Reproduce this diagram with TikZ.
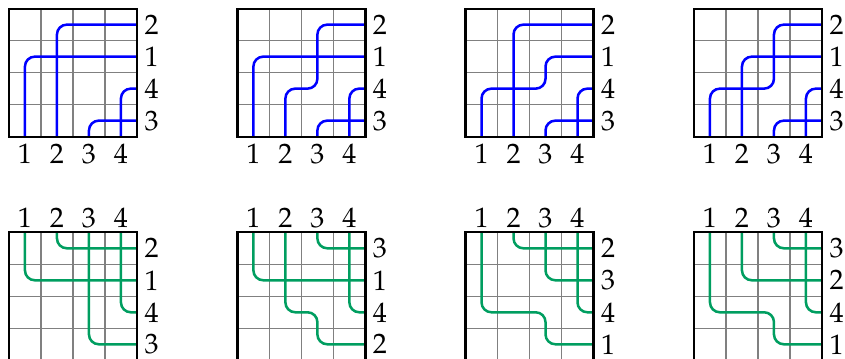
\documentclass[tikz,border=0pt]{standalone}
\usepackage{mathpazo}
\usetikzlibrary{positioning}
\definecolor{WireBlue}{RGB}{0,0,255}
\definecolor{WireGreen}{RGB}{0,158,96}

\begin{document}
\begin{tikzpicture}[x=0.4cm,y=0.4cm,
frame/.style={draw=black,line width=0.8pt},
cell/.style={draw=gray,line width=0.4pt,step=0.4cm},
upwire/.style={draw=WireBlue,line width=0.9pt,rounded corners=3.5pt},
downwire/.style={draw=WireGreen,line width=0.9pt,rounded corners=3.5pt},
inlab/.style={anchor=north,inner sep=2.5pt},
toplab/.style={anchor=south,inner sep=1.5pt},
outlab/.style={anchor=west,inner sep=2.5pt}
]
\useasboundingbox (0,0) rectangle (26.41,11.19);
% top row: wires enter at the bottom
\begin{scope}[shift={(0.28,6.92)}]
\draw[cell] (0,0) grid (4,4);
\draw[upwire] (0.5,0) |- (4,2.5);
\draw[upwire] (1.5,0) |- (4,3.5);
\draw[upwire] (2.5,0) |- (4,0.5);
\draw[upwire] (3.5,0) |- (4,1.5);
\draw[frame] (0,0) rectangle (4,4);
\foreach \i in {1,...,4} \node[inlab] (a-in\i) at (\i-0.5,0) {$\i$};
\foreach \j/\y in {2/3.5,1/2.5,4/1.5,3/0.5} \node[outlab] (a-out\j) at (4,\y) {$\j$};
\end{scope}
\begin{scope}[shift={(7.42,6.92)}]
\draw[cell] (0,0) grid (4,4);
\draw[upwire] (0.5,0) |- (4,2.5);
\draw[upwire] (1.5,0) -- (1.5,1.5) -- (2.5,1.5) -- (2.5,3.5) -- (4,3.5);
\draw[upwire] (2.5,0) |- (4,0.5);
\draw[upwire] (3.5,0) |- (4,1.5);
\draw[frame] (0,0) rectangle (4,4);
\foreach \i in {1,...,4} \node[inlab] (b-in\i) at (\i-0.5,0) {$\i$};
\foreach \j/\y in {2/3.5,1/2.5,4/1.5,3/0.5} \node[outlab] (b-out\j) at (4,\y) {$\j$};
\end{scope}
\begin{scope}[shift={(14.55,6.92)}]
\draw[cell] (0,0) grid (4,4);
\draw[upwire] (0.5,0) -- (0.5,1.5) -- (2.5,1.5) -- (2.5,2.5) -- (4,2.5);
\draw[upwire] (1.5,0) |- (4,3.5);
\draw[upwire] (2.5,0) |- (4,0.5);
\draw[upwire] (3.5,0) |- (4,1.5);
\draw[frame] (0,0) rectangle (4,4);
\foreach \i in {1,...,4} \node[inlab] (c-in\i) at (\i-0.5,0) {$\i$};
\foreach \j/\y in {2/3.5,1/2.5,4/1.5,3/0.5} \node[outlab] (c-out\j) at (4,\y) {$\j$};
\end{scope}
\begin{scope}[shift={(21.69,6.92)}]
\draw[cell] (0,0) grid (4,4);
\draw[upwire] (0.5,0) -- (0.5,1.5) -- (2.5,1.5) -- (2.5,3.5) -- (4,3.5);
\draw[upwire] (1.5,0) |- (4,2.5);
\draw[upwire] (2.5,0) |- (4,0.5);
\draw[upwire] (3.5,0) |- (4,1.5);
\draw[frame] (0,0) rectangle (4,4);
\foreach \i in {1,...,4} \node[inlab] (d-in\i) at (\i-0.5,0) {$\i$};
\foreach \j/\y in {2/3.5,1/2.5,4/1.5,3/0.5} \node[outlab] (d-out\j) at (4,\y) {$\j$};
\end{scope}
% bottom row: wires enter at the top
\begin{scope}[shift={(0.28,-0.07)}]
\draw[cell] (0,0) grid (4,4);
\draw[downwire] (0.5,4) |- (4,2.5);
\draw[downwire] (1.5,4) |- (4,3.5);
\draw[downwire] (2.5,4) |- (4,0.5);
\draw[downwire] (3.5,4) |- (4,1.5);
\draw[frame] (0,0) rectangle (4,4);
\foreach \i in {1,...,4} \node[toplab] (e-in\i) at (\i-0.5,4) {$\i$};
\foreach \j/\y in {2/3.5,1/2.5,4/1.5,3/0.5} \node[outlab] (e-out\j) at (4,\y) {$\j$};
\end{scope}
\begin{scope}[shift={(7.42,-0.07)}]
\draw[cell] (0,0) grid (4,4);
\draw[downwire] (0.5,4) |- (4,2.5);
\draw[downwire] (1.5,4) -- (1.5,1.5) -- (2.5,1.5) -- (2.5,0.5) -- (4,0.5);
\draw[downwire] (2.5,4) |- (4,3.5);
\draw[downwire] (3.5,4) |- (4,1.5);
\draw[frame] (0,0) rectangle (4,4);
\foreach \i in {1,...,4} \node[toplab] (f-in\i) at (\i-0.5,4) {$\i$};
\foreach \j/\y in {3/3.5,1/2.5,4/1.5,2/0.5} \node[outlab] (f-out\j) at (4,\y) {$\j$};
\end{scope}
\begin{scope}[shift={(14.55,-0.07)}]
\draw[cell] (0,0) grid (4,4);
\draw[downwire] (0.5,4) -- (0.5,1.5) -- (2.5,1.5) -- (2.5,0.5) -- (4,0.5);
\draw[downwire] (1.5,4) |- (4,3.5);
\draw[downwire] (2.5,4) |- (4,2.5);
\draw[downwire] (3.5,4) |- (4,1.5);
\draw[frame] (0,0) rectangle (4,4);
\foreach \i in {1,...,4} \node[toplab] (g-in\i) at (\i-0.5,4) {$\i$};
\foreach \j/\y in {2/3.5,3/2.5,4/1.5,1/0.5} \node[outlab] (g-out\j) at (4,\y) {$\j$};
\end{scope}
\begin{scope}[shift={(21.69,-0.07)}]
\draw[cell] (0,0) grid (4,4);
\draw[downwire] (0.5,4) -- (0.5,1.5) -- (2.5,1.5) -- (2.5,0.5) -- (4,0.5);
\draw[downwire] (1.5,4) |- (4,2.5);
\draw[downwire] (2.5,4) |- (4,3.5);
\draw[downwire] (3.5,4) |- (4,1.5);
\draw[frame] (0,0) rectangle (4,4);
\foreach \i in {1,...,4} \node[toplab] (h-in\i) at (\i-0.5,4) {$\i$};
\foreach \j/\y in {3/3.5,2/2.5,4/1.5,1/0.5} \node[outlab] (h-out\j) at (4,\y) {$\j$};
\end{scope}
\end{tikzpicture}
\end{document}
